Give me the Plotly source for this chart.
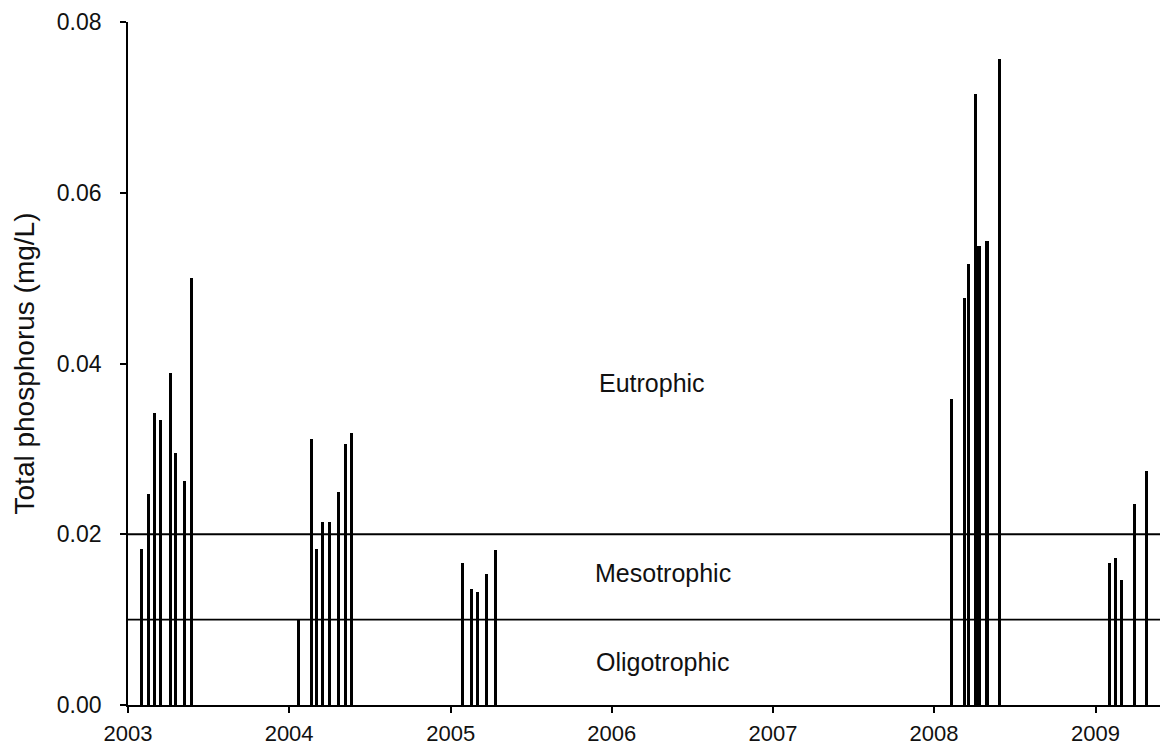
import plotly.graph_objects as go

# Sampling dates and total phosphorus concentrations (mg/L)
dates_2003 = ["2003-01-31", "2003-02-17", "2003-03-01", "2003-03-15",
              "2003-04-08", "2003-04-19", "2003-05-10", "2003-05-25"]
tp_2003 = [0.0183, 0.0247, 0.0342, 0.0334, 0.0389, 0.0295, 0.0262, 0.0500]

dates_2004 = ["2004-01-23", "2004-02-21", "2004-03-03", "2004-03-17",
              "2004-04-01", "2004-04-21", "2004-05-07", "2004-05-21"]
tp_2004 = [0.0100, 0.0312, 0.0183, 0.0214, 0.0214, 0.0249, 0.0306, 0.0319]

dates_2005 = ["2005-01-28", "2005-02-17", "2005-03-02", "2005-03-23", "2005-04-13"]
tp_2005 = [0.0166, 0.0136, 0.0132, 0.0154, 0.0181]

dates_2008 = ["2008-02-09", "2008-03-11", "2008-03-20", "2008-04-03",
              "2008-04-12", "2008-04-30", "2008-05-28"]
tp_2008 = [0.0359, 0.0477, 0.0517, 0.0716, 0.0538, 0.0544, 0.0757]

dates_2009 = ["2009-02-01", "2009-02-15", "2009-02-28", "2009-03-30", "2009-04-26"]
tp_2009 = [0.0166, 0.0172, 0.0146, 0.0236, 0.0274]

# Trophic state boundaries (mg/L)
meso_limit = 0.01
eu_limit = 0.02

year_ticks = [f"{y}-01-01" for y in range(2003, 2010)]
year_labels = [str(y) for y in range(2003, 2010)]
y_ticks = [0.0, 0.02, 0.04, 0.06, 0.08]
y_labels = ["0.00", "0.02", "0.04", "0.06", "0.08"]

dates = dates_2003 + dates_2004 + dates_2005 + dates_2008 + dates_2009
tp = tp_2003 + tp_2004 + tp_2005 + tp_2008 + tp_2009

bar_width_ms = 7 * 24 * 3600 * 1000
FONT = "Liberation Sans, Arial, sans-serif"

fig = go.Figure()
fig.add_trace(go.Bar(
    x=dates, y=tp, width=[bar_width_ms] * len(dates),
    marker=dict(color="black", line=dict(width=0)),
    showlegend=False,
))

for level in (eu_limit, meso_limit):
    fig.add_shape(type="line", xref="paper", x0=0, x1=1, yref="y", y0=level, y1=level,
                  line=dict(color="black", width=1.8))

label_font = dict(family=FONT, size=25, color="#111")
fig.add_annotation(x="2006-04-02", y=0.0377, text="Eutrophic", showarrow=False, font=label_font)
fig.add_annotation(x="2006-04-27", y=0.0155, text="Mesotrophic", showarrow=False, font=label_font)
fig.add_annotation(x="2006-04-27", y=0.0050, text="Oligotrophic", showarrow=False, font=label_font)

fig.update_layout(
    width=1166, height=746,
    margin=dict(l=128, r=6, t=22, b=41),
    paper_bgcolor="white", plot_bgcolor="white",
    font=dict(family=FONT, size=23, color="#111"),
    bargap=0,
)
fig.update_xaxes(
    type="date", range=["2003-01-01", "2009-05-27"],
    tickvals=year_ticks, ticktext=year_labels,
    ticks="outside", ticklen=6, tickwidth=1.8, tickcolor="black",
    ticklabelstandoff=2, automargin=False,
    showline=True, linecolor="black", linewidth=1.8,
    showgrid=False, zeroline=False,
    tickfont=dict(family=FONT, size=22, color="#111"),
)
fig.update_yaxes(
    range=[0, 0.08],
    tickvals=y_ticks, ticktext=y_labels,
    ticks="outside", ticklen=6, tickwidth=1.8, tickcolor="black",
    ticklabelstandoff=14, automargin=False,
    showline=True, linecolor="black", linewidth=1.8,
    showgrid=False, zeroline=False,
    tickfont=dict(family=FONT, size=23, color="#111"),
    title=dict(text="Total phosphorus (mg/L)", font=dict(family=FONT, size=28, color="#111"),
               standoff=14),
)

fig.write_html("out.html")
